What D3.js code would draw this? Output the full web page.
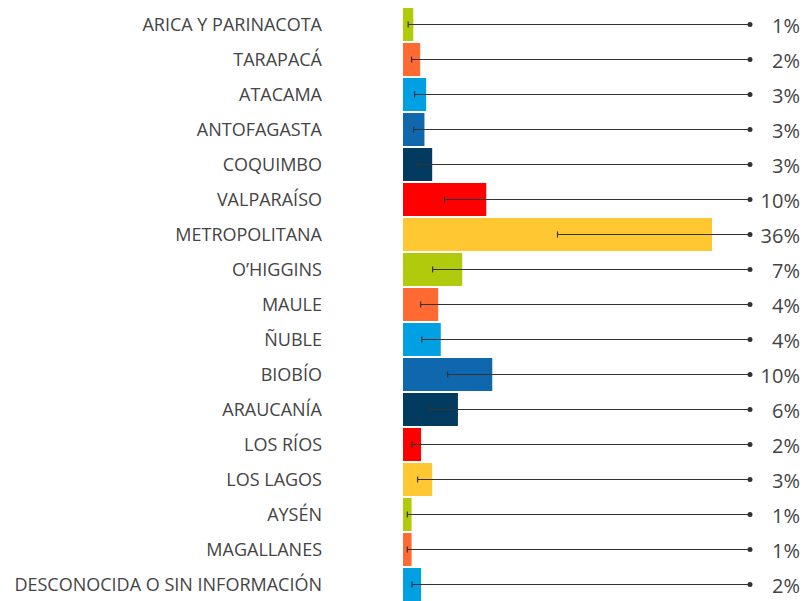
<html>
<head>
<script src="https://cdnjs.cloudflare.com/ajax/libs/d3/7.8.5/d3.min.js"></script>
</head>
<body style="margin: 0; background: #fff;">
</body>
<script>
// regions, top to bottom
var regions = ["ARICA Y PARINACOTA", "TARAPACÁ", "ATACAMA", "ANTOFAGASTA", "COQUIMBO",
  "VALPARAÍSO", "METROPOLITANA", "O’HIGGINS", "MAULE", "ÑUBLE", "BIOBÍO", "ARAUCANÍA",
  "LOS RÍOS", "LOS LAGOS", "AYSÉN", "MAGALLANES", "DESCONOCIDA O SIN INFORMACIÓN"];
// share in percent
var shares = [1.2, 2.0, 2.7, 2.5, 3.4, 9.7, 36.0, 6.9, 4.1, 4.4, 10.4, 6.4, 2.1, 3.4, 1.0, 1.0, 2.1];
var palette = ["#b1ca0c", "#ff6a33", "#00a0e3", "#0f67ae", "#023a60", "#ff0000", "#ffc833"];

var width = 809, height = 601;

function drawGraph() {
  var data = regions.map(function(r, i) { return {name: r, value: shares[i]}; });

  var y = d3.scaleBand()
    .domain(regions)
    .range([7, 602])
    .paddingInner(2 / 35)
    .paddingOuter(1 / 35);

  var x = d3.scaleLinear()
    .domain([0, 36])
    .range([403, 712]);

  var color = d3.scaleOrdinal()
    .domain(regions)
    .range(palette);

  var svg = d3.select("body").append("svg")
    .attr("width", width)
    .attr("height", height)
    .style("font-family", "'Open Sans', sans-serif");

  var row = svg.append("g")
    .selectAll("g")
    .data(data)
    .enter()
    .append("g")
    .attr("transform", function(d) { return "translate(0," + y(d.name) + ")"; });

  var bh = y.bandwidth();

  row.append("rect")
    .attr("x", x(0))
    .attr("y", 0)
    .attr("width", function(d) { return x(d.value) - x(0); })
    .attr("height", bh)
    .attr("fill", function(d) { return color(d.name); });

  // leader line from half the bar out to the value label
  row.append("line")
    .attr("x1", function(d) { return x(d.value / 2); })
    .attr("x2", 750)
    .attr("y1", bh / 2)
    .attr("y2", bh / 2)
    .attr("stroke", "#333")
    .attr("stroke-width", 1.2);

  row.append("line")
    .attr("x1", function(d) { return x(d.value / 2); })
    .attr("x2", function(d) { return x(d.value / 2); })
    .attr("y1", bh / 2 - 3)
    .attr("y2", bh / 2 + 3)
    .attr("stroke", "#333")
    .attr("stroke-width", 1.2);

  row.append("circle")
    .attr("cx", 750)
    .attr("cy", bh / 2)
    .attr("r", 2.5)
    .attr("fill", "#333");

  row.append("text")
    .attr("x", 322)
    .attr("y", bh / 2)
    .attr("dy", "0.37em")
    .attr("text-anchor", "end")
    .attr("fill", "#444")
    .style("font-size", "18px")
    .text(function(d) { return d.name; });

  row.append("text")
    .attr("x", 800)
    .attr("y", bh / 2)
    .attr("dy", "0.42em")
    .attr("text-anchor", "end")
    .attr("fill", "#444")
    .style("font-size", "20px")
    .text(function(d) { return Math.round(d.value) + "%"; });
}

drawGraph();
</script>
</html>
